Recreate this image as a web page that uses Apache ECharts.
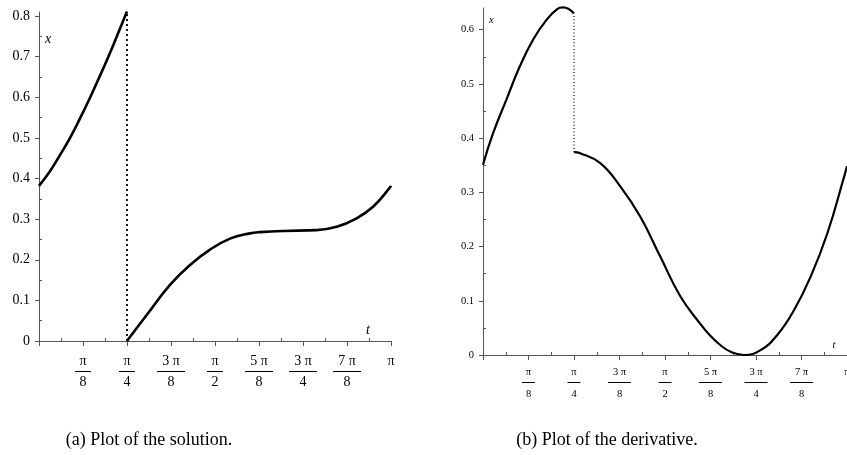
<!DOCTYPE html>
<html>
<head>
<meta charset="utf-8">
<script src="https://cdn.jsdelivr.net/npm/echarts@6/dist/echarts.min.js"></script>
<style>
  html, body { margin: 0; padding: 0; background: #fff; }
  #chart { width: 847px; height: 455px; }
</style>
</head>
<body>
<div id="chart"></div>
<script>
// (a) solution x(t): piece before the jump and piece after it
const solT1 = [0, 0.098, 0.179, 0.277, 0.366, 0.455, 0.536, 0.619, 0.696, 0.785];
const solX1 = [0.382, 0.418, 0.454, 0.500, 0.548, 0.599, 0.648, 0.700, 0.751, 0.811];
const solT2 = [0.785, 0.961, 1.169, 1.348, 1.526, 1.705, 1.883, 1.972, 2.18, 2.478, 2.657, 2.835, 2.984, 3.133, 3.1416];
const solX2 = [0, 0.064, 0.138, 0.187, 0.225, 0.252, 0.265, 0.268, 0.271, 0.273, 0.281, 0.302, 0.331, 0.378, 0.382];

// (b) derivative
const derT1 = [0, 0.087, 0.202, 0.317, 0.433, 0.548, 0.64, 0.69, 0.74, 0.785];
const derY1 = [0.351, 0.409, 0.471, 0.532, 0.582, 0.618, 0.638, 0.641, 0.638, 0.63];
const derT2 = [0.785, 0.839, 1.012, 1.185, 1.358, 1.531, 1.704, 1.877, 1.964, 2.05, 2.137, 2.252, 2.396, 2.54, 2.685, 2.829, 2.973, 3.117, 3.1416];
const derY2 = [0.374, 0.372, 0.354, 0.311, 0.255, 0.181, 0.108, 0.057, 0.035, 0.018, 0.006, 0, 0.009, 0.037, 0.083, 0.145, 0.225, 0.329, 0.348];

const jumpT = Math.PI / 4;

// x tick labels, one per multiple of pi/8
const tickNum = ['', 'π', 'π', '3 π', 'π', '5 π', '3 π', '7 π', 'π'];
const tickDen = ['', '8', '4', '8', '2', '8', '4', '8', ''];
const yTicksA = [0, 0.1, 0.2, 0.3, 0.4, 0.5, 0.6, 0.7, 0.8];
const yTicksB = [0, 0.1, 0.2, 0.3, 0.4, 0.5, 0.6];

const step = Math.PI / 8;
const xMajor = tickNum.map((_, i) => i * step);
const xMinor = xMajor.slice(1).map(v => v - step / 2);
const mids = arr => arr.slice(1).map((v, i) => (v + arr[i]) / 2);
const zip = (a, b) => a.map((v, i) => [v, b[i]]);

const serif = 'Liberation Serif';
const axisColor = '#555';

function fracLabel (v) {
  const i = Math.round(v / step);
  if (!tickDen[i]) return tickNum[i] ? '{n|' + tickNum[i] + '}' : '';
  const bar = tickNum[i].length > 1 ? 'w' : 's';
  return '{n|' + tickNum[i] + '}\n{' + bar + '| }\n{d|' + tickDen[i] + '}';
}

// lh = [numerator, bar, denominator] line heights
function xAxes (grid, size, margin, barS, barW, lh, nameGap) {
  return [{
    type: 'value', gridIndex: grid, min: 0, max: Math.PI,
    name: 't', nameLocation: 'end', nameGap: nameGap,
    nameTextStyle: { fontFamily: serif, fontStyle: 'italic', fontSize: size, color: '#000',
      align: 'center', verticalAlign: 'bottom', padding: [0, 0, 4, 0] },
    axisLine: { lineStyle: { color: axisColor, width: 1 } },
    axisTick: { customValues: xMajor, length: 5, lineStyle: { color: axisColor } },
    splitLine: { show: false },
    axisLabel: {
      customValues: xMajor, margin: margin, color: '#000', formatter: fracLabel,
      rich: {
        n: { fontFamily: serif, fontSize: size, lineHeight: lh[0] },
        d: { fontFamily: serif, fontSize: size, lineHeight: lh[2] },
        s: { width: barS, height: 1, lineHeight: lh[1], backgroundColor: '#000' },
        w: { width: barW, height: 1, lineHeight: lh[1], backgroundColor: '#000' }
      }
    }
  }, {
    type: 'value', gridIndex: grid, min: 0, max: Math.PI,
    axisLine: { show: false },
    axisTick: { customValues: xMinor, length: 3, lineStyle: { color: axisColor } },
    axisLabel: { show: false },
    splitLine: { show: false }
  }];
}

function yAxes (grid, max, ticks, size, nameGap) {
  return [{
    type: 'value', gridIndex: grid, min: 0, max: max,
    name: 'x', nameLocation: 'end', nameGap: nameGap,
    nameTextStyle: { fontFamily: serif, fontStyle: 'italic', fontSize: size, color: '#000',
      align: 'left', verticalAlign: 'middle', padding: [0, 0, 0, 6] },
    axisLine: { show: true, lineStyle: { color: axisColor, width: 1 } },
    axisTick: { show: true, customValues: ticks, length: 4, lineStyle: { color: axisColor } },
    splitLine: { show: false },
    axisLabel: {
      customValues: ticks, margin: 9, color: '#000', fontFamily: serif, fontSize: size,
      formatter: v => (v === 0 ? '0' : v.toFixed(1))
    }
  }, {
    type: 'value', gridIndex: grid, min: 0, max: max,
    axisLine: { show: false },
    axisTick: { show: true, customValues: mids(ticks), length: 3, lineStyle: { color: axisColor } },
    axisLabel: { show: false },
    splitLine: { show: false }
  }];
}

function curve (xi, yi, data, w) {
  return {
    type: 'line', xAxisIndex: xi, yAxisIndex: yi, data: data,
    smooth: 0.45, clip: false,
    showSymbol: false, symbol: 'none', silent: true,
    lineStyle: { color: '#000', width: w }
  };
}

function dots (xi, yi, data, dash, w) {
  return {
    type: 'line', xAxisIndex: xi, yAxisIndex: yi, data: data,
    showSymbol: false, symbol: 'none', silent: true,
    lineStyle: { color: '#000', width: w, type: dash }
  };
}

const chart = echarts.init(document.getElementById('chart'));
chart.setOption({
  animation: false,
  backgroundColor: '#fff',
  grid: [
    { left: 39, top: 12, width: 352, height: 329, outerBoundsMode: 'none', containLabel: false },
    { left: 483, top: 8, width: 364, height: 347, outerBoundsMode: 'none', containLabel: false }
  ],
  xAxis: [].concat(
    xAxes(0, 14, 12, 16, 28, [16, 5, 16], -23),
    xAxes(1, 10.5, 11, 13, 23, [12, 9, 14], -13)
  ),
  yAxis: [].concat(
    yAxes(0, 0.81, yTicksA, 14, -27),
    yAxes(1, 0.64, yTicksB, 10.5, -12)
  ),
  series: [
    curve(0, 0, zip(solT1, solX1), 2.6),
    curve(0, 0, zip(solT2, solX2), 2.6),
    dots(0, 0, [[jumpT, 0], [jumpT, solX1[solX1.length - 1]]], [2, 3], 1.8),
    curve(2, 2, zip(derT1, derY1), 2.2),
    curve(2, 2, zip(derT2, derY2), 2.2),
    dots(2, 2, [[jumpT, derY2[0]], [jumpT, derY1[derY1.length - 1]]], [1, 2.3], 1.2)
  ],
  graphic: [
    { type: 'text', x: 149, y: 440, style: { text: '(a) Plot of the solution.', font: '18px "Liberation Serif"', fill: '#000', align: 'center', verticalAlign: 'middle' } },
    { type: 'text', x: 607, y: 440, style: { text: '(b) Plot of the derivative.', font: '18px "Liberation Serif"', fill: '#000', align: 'center', verticalAlign: 'middle' } }
  ]
});
</script>
</body>
</html>
